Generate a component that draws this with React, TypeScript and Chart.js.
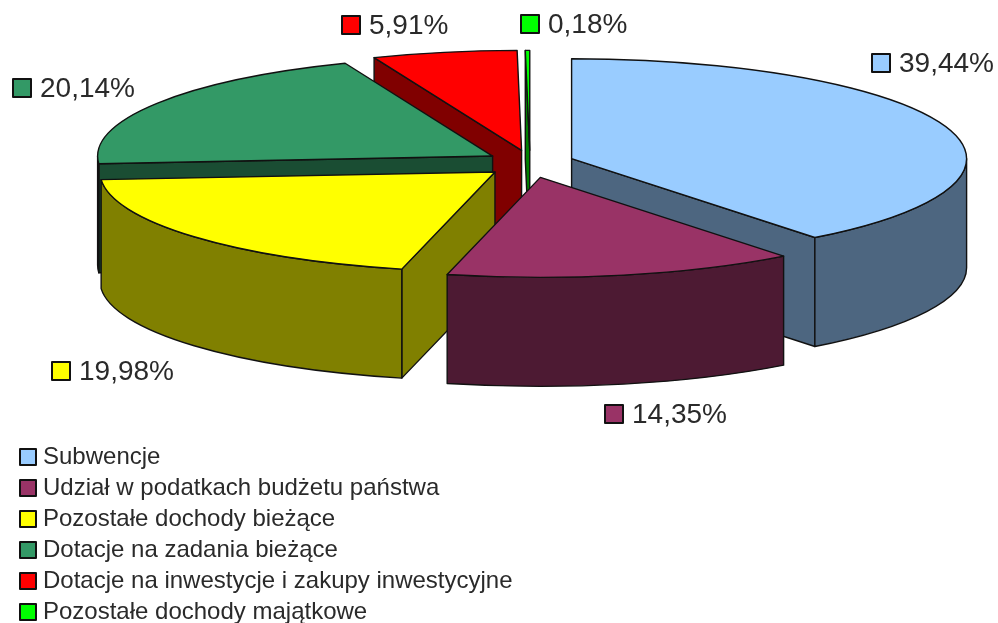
import { useEffect, useRef } from "react";
import { Chart, registerables } from "chart.js";

Chart.register(...registerables);

const categories = [
  "Subwencje",
  "Udział w podatkach budżetu państwa",
  "Pozostałe dochody bieżące",
  "Dotacje na zadania bieżące",
  "Dotacje na inwestycje i zakupy inwestycyjne",
  "Pozostałe dochody majątkowe",
];
const shares = [39.44, 14.35, 19.98, 20.14, 5.91, 0.18];
const topColors = ["#99CCFF", "#993366", "#FFFF00", "#339966", "#FF0000", "#00FF00"];
const wallColors = ["#4D6680", "#4D1A33", "#808000", "#1A4D33", "#800000", "#008000"];
const explosion = [44, 49, 46, 44, 43, 42];
const paintOrder = [5, 4, 3, 2, 0, 1];
const labelAnchors = [
  [872, 63],
  [605, 414],
  [52, 371],
  [13, 88],
  [342, 25],
  [521, 24],
];

const CENTER_X = 530;
const CENTER_Y = 163;
const RADIUS = 250;
const RX = 395;
const RY = 100;
const DEPTH = 109;
const EXPLODE_Y = 0.3;
const LINE = 1.4;

const pie3d = {
  id: "pie3d",
  beforeDatasetsDraw(chart: any) {
    const ctx = chart.ctx;
    const arcs = chart.getDatasetMeta(0).data;
    const sx = RX / RADIUS;
    const sy = RY / RADIUS;
    const d = DEPTH / sy;
    paintOrder.forEach((i) => {
      const arc = arcs[i];
      const { x, y, startAngle: a, endAngle: b, outerRadius: r } = arc.getProps(
        ["x", "y", "startAngle", "endAngle", "outerRadius"],
        true
      );
      const mid = (a + b) / 2;
      const e = explosion[i];
      const tx = CENTER_X + Math.cos(mid) * e;
      const ty = CENTER_Y + Math.sin(mid) * e * EXPLODE_Y;
      const enter = () => {
        ctx.save();
        ctx.translate(tx, ty);
        ctx.scale(sx, sy);
        ctx.translate(-x, -y);
      };
      const paint = (build: () => void, fill: string) => {
        ctx.beginPath();
        enter();
        build();
        ctx.restore();
        ctx.fillStyle = fill;
        ctx.strokeStyle = "#111";
        ctx.lineWidth = LINE;
        ctx.lineJoin = "round";
        ctx.fill();
        ctx.stroke();
      };
      const face = (angle: number) => () => {
        const px = x + Math.cos(angle) * r;
        const py = y + Math.sin(angle) * r;
        ctx.moveTo(x, y);
        ctx.lineTo(px, py);
        ctx.lineTo(px, py + d);
        ctx.lineTo(x, y + d);
        ctx.closePath();
      };
      if (Math.cos(a) < 0) paint(face(a), wallColors[i]);
      if (Math.cos(b) > 0) paint(face(b), wallColors[i]);
      const from = Math.max(a, 0);
      const to = Math.min(b, Math.PI);
      if (to > from) {
        paint(() => {
          ctx.arc(x, y, r, from, to);
          ctx.lineTo(x + Math.cos(to) * r, y + Math.sin(to) * r + d);
          ctx.arc(x, y + d, r, to, from, true);
          ctx.closePath();
        }, wallColors[i]);
      }
      enter();
      arc.draw(ctx);
      ctx.restore();
      ctx.beginPath();
      enter();
      ctx.moveTo(x, y);
      ctx.arc(x, y, r, a, b);
      ctx.closePath();
      ctx.restore();
      ctx.strokeStyle = "#111";
      ctx.lineWidth = LINE;
      ctx.stroke();
    });
    return false;
  },
  afterDraw(chart: any) {
    const ctx = chart.ctx;
    ctx.save();
    ctx.textBaseline = "middle";
    ctx.textAlign = "left";
    ctx.font = "28px 'Liberation Sans'";
    ctx.strokeStyle = "#111";
    ctx.lineWidth = 2;
    shares.forEach((v, i) => {
      const [bx, by] = labelAnchors[i];
      ctx.fillStyle = topColors[i];
      ctx.fillRect(bx, by - 9, 18, 18);
      ctx.strokeRect(bx, by - 9, 18, 18);
      ctx.fillStyle = "#2a2a2a";
      ctx.fillText(v.toFixed(2).replace(".", ",") + "%", bx + 27, by + 1);
    });
    chart.legend.legendHitBoxes.forEach((h: any, i: number) => {
      const cy = h.top + h.height / 2;
      ctx.fillStyle = topColors[i];
      ctx.fillRect(h.left, cy - 8, 16, 16);
      ctx.strokeRect(h.left, cy - 8, 16, 16);
    });
    ctx.restore();
  },
};

export default function App() {
  const ref = useRef<HTMLCanvasElement>(null);
  useEffect(() => {
    document.body.style.margin = "0";
    document.body.style.background = "#fff";
    const base = (Chart as any).overrides.doughnut.plugins.legend.labels.generateLabels;
    const chart = new Chart(ref.current as HTMLCanvasElement, {
      type: "doughnut",
      data: {
        labels: categories,
        datasets: [
          {
            data: shares,
            backgroundColor: topColors,
            borderWidth: 0,
            offset: 0,
          },
        ],
      },
      options: {
        responsive: false,
        animation: false,
        cutout: 0,
        radius: RADIUS,
        layout: { padding: { left: 13, bottom: -8 } },
        plugins: {
          tooltip: { enabled: false },
          legend: {
            position: "left",
            align: "end",
            maxWidth: 600,
            labels: {
              boxWidth: 11,
              boxHeight: 15,
              padding: 7,
              color: "#2a2a2a",
              font: { family: "'Liberation Sans'", size: 24 },
              generateLabels: (c: any) =>
                base(c).map((item: any) => ({
                  ...item,
                  fillStyle: "rgba(0,0,0,0)",
                  strokeStyle: "rgba(0,0,0,0)",
                  lineWidth: 0,
                })),
            },
          },
        },
      } as any,
      plugins: [pie3d],
    });
    return () => chart.destroy();
  }, []);
  return <canvas ref={ref} width={998} height={623} style={{ display: "block", width: 998, height: 623 }} />;
}
